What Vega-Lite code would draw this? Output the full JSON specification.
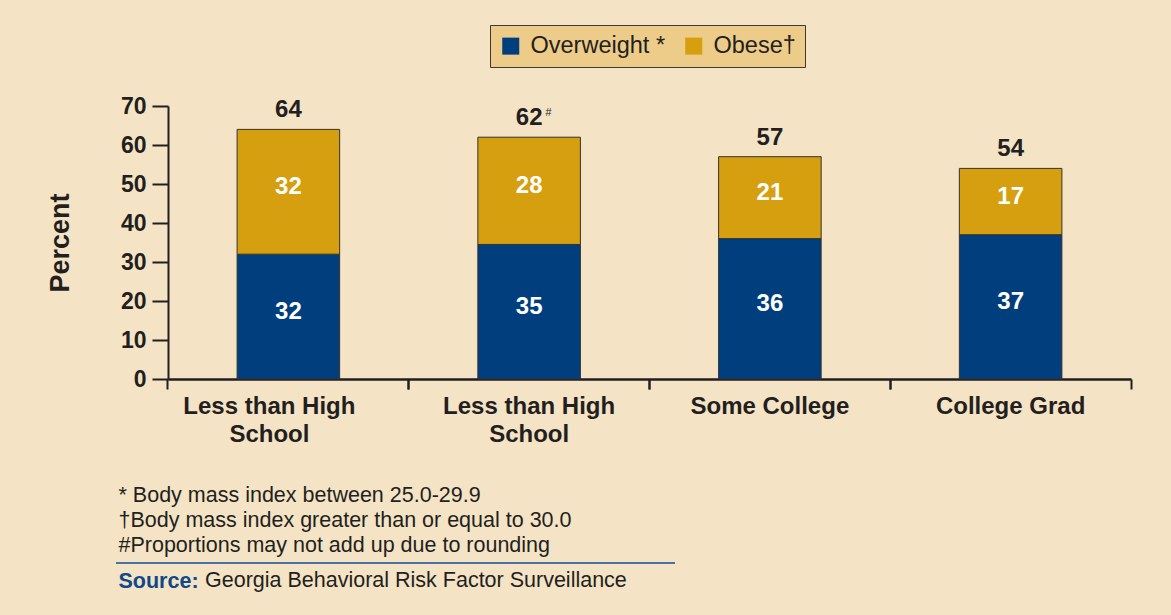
{
  "$schema": "https://vega.github.io/schema/vega-lite/v6.json",
  "width": 963,
  "height": 273,
  "autosize": {"type": "none"},
  "padding": {"left": 168, "top": 106, "right": 40, "bottom": 236},
  "background": "#F4E4C5",
  "data": {
    "values": [
      {"education": "Less than High School", "series": "Overweight *", "value": 32},
      {"education": "Less than High School", "series": "Obese†", "value": 32},
      {"education": "Less than High School ", "series": "Overweight *", "value": 34.5},
      {"education": "Less than High School ", "series": "Obese†", "value": 27.5, "note": "#"},
      {"education": "Some College", "series": "Overweight *", "value": 36},
      {"education": "Some College", "series": "Obese†", "value": 21},
      {"education": "College Grad", "series": "Overweight *", "value": 37},
      {"education": "College Grad", "series": "Obese†", "value": 17}
    ]
  },
  "resolve": {"axis": {"x": "independent"}},
  "layer": [
    {
      "mark": {"type": "bar", "stroke": "#333333", "strokeWidth": 1},
      "encoding": {
        "x": {
          "field": "education", "type": "nominal", "sort": null,
          "scale": {"domain": ["Less than High School", "Less than High School ", "Some College", "College Grad"], "paddingInner": 0.574, "paddingOuter": 0.287},
          "axis": {
            "orient": "bottom",
            "title": ["* Body mass index between 25.0-29.9", "†Body mass index greater than or equal to 30.0", "#Proportions may not add up due to rounding"],
            "titleX": -50, "titleY": 122, "titleAlign": "left", "titleBaseline": "alphabetic",
            "titleFontSize": 21.5, "titleFontWeight": "normal", "titleColor": "#231F20", "titleLineHeight": 25, "titleFont": "Liberation Sans",
            "labelExpr": "split(replace(datum.label, ' School', '|School'), '|')",
            "labelFontSize": 24, "labelFontWeight": "bold", "labelColor": "#231F20", "labelLineHeight": 28, "labelPadding": 5, "labelAngle": 0, "labelLimit": 0, "labelOverlap": false, "labelFont": "Liberation Sans",
            "labelOffset": {"condition": {"test": "datum.value === 'Less than High School'", "value": -19}, "value": 0},
            "tickSize": 10, "tickWidth": 2, "tickColor": "#231F20", "bandPosition": -0.674,
            "domainColor": "#231F20", "domainWidth": 2.5, "grid": false
          }
        },
        "y": {
          "field": "value", "type": "quantitative", "stack": "zero",
          "scale": {"domain": [0, 70], "nice": false},
          "title": "Percent",
          "axis": {
            "values": [0, 10, 20, 30, 40, 50, 60, 70], "tickCount": 10,
            "titleFontSize": 27, "titleFontWeight": "bold", "titleColor": "#231F20", "titleFont": "Liberation Sans",
            "titleX": -100, "titleY": 136.5, "titleAngle": 270, "titleAlign": "center", "titleBaseline": "alphabetic",
            "labelFontSize": 23, "labelFontWeight": "bold", "labelColor": "#231F20", "labelPadding": 6, "labelFont": "Liberation Sans", "labelOverlap": false, "labelBaseline": "middle",
            "tickSize": 16, "tickWidth": 2, "tickColor": "#231F20",
            "domainColor": "#231F20", "domainWidth": 2, "grid": false
          }
        },
        "color": {
          "field": "series", "type": "nominal",
          "scale": {"domain": ["Overweight *", "Obese†"], "range": ["#003E7E", "#D59F0F"]},
          "legend": {
            "orient": "none", "legendX": 322, "legendY": -81, "direction": "horizontal", "title": null,
            "fillColor": "#EDCB89", "strokeColor": "#3A3A3A", "padding": 9,
            "symbolType": "square", "symbolSize": 289, "symbolStrokeWidth": 0, "symbolOpacity": 1,
            "labelFontSize": 23.5, "labelColor": "#231F20", "labelFont": "Liberation Sans", "labelOffset": 8, "columnPadding": 16
          }
        },
        "order": {"field": "series", "sort": "descending"}
      }
    },
    {
      "transform": [
        {"stack": "value", "groupby": ["education"], "sort": [{"field": "series", "order": "descending"}], "as": ["v0", "v1"]},
        {"fold": ["v0", "v1"], "as": ["edge", "pos"]},
        {"aggregate": [{"op": "mean", "field": "pos", "as": "mid"}], "groupby": ["education", "series", "value"]}
      ],
      "mark": {"type": "text", "color": "#FFFFFF", "fontSize": 24, "fontWeight": "bold", "baseline": "middle", "dy": -5, "font": "Liberation Sans"},
      "encoding": {
        "x": {
          "field": "education", "type": "nominal", "sort": null,
          "scale": {"domain": ["Less than High School", "Less than High School ", "Some College", "College Grad"]},
          "axis": {
            "orient": "bottom", "domain": false, "labels": false, "ticks": true, "tickSize": 10, "tickWidth": 2, "tickColor": "#231F20", "bandPosition": 1.674, "grid": false,
            "title": "Source:", "titleX": -50, "titleY": 208, "titleAlign": "left", "titleBaseline": "alphabetic",
            "titleFontSize": 21.5, "titleFontWeight": "bold", "titleColor": "#10488A", "titleFont": "Liberation Sans"
          }
        },
        "y": {"field": "mid", "type": "quantitative", "title": "Percent"},
        "text": {"field": "value", "type": "quantitative", "format": ".0f"}
      }
    },
    {
      "transform": [
        {"aggregate": [{"op": "sum", "field": "value", "as": "total"}], "groupby": ["education"]}
      ],
      "mark": {"type": "text", "color": "#231F20", "fontSize": 24, "fontWeight": "bold", "baseline": "alphabetic", "dy": -12, "font": "Liberation Sans"},
      "encoding": {
        "x": {
          "field": "education", "type": "nominal", "sort": null,
          "scale": {"domain": ["Less than High School", "Less than High School ", "Some College", "College Grad"]},
          "axis": {
            "orient": "bottom", "offset": 236, "translate": -52,
            "domain": true, "domainColor": "#4A73A0", "domainWidth": 2, "domainDash": [559, 2000],
            "labels": false, "ticks": false, "grid": false,
            "title": "Georgia Behavioral Risk Factor Surveillance", "titleX": 89, "titleY": 24, "titleAlign": "left", "titleBaseline": "alphabetic",
            "titleFontSize": 21.5, "titleFontWeight": "normal", "titleColor": "#231F20", "titleFont": "Liberation Sans"
          }
        },
        "y": {"field": "total", "type": "quantitative", "title": "Percent"},
        "text": {"field": "total", "type": "quantitative", "format": ".0f"}
      }
    },
    {
      "transform": [
        {"joinaggregate": [{"op": "sum", "field": "value", "as": "total"}], "groupby": ["education"]},
        {"filter": "isValid(datum.note)"}
      ],
      "mark": {"type": "text", "color": "#231F20", "fontSize": 11, "fontStyle": "italic", "align": "left", "baseline": "alphabetic", "dx": 16, "dy": -21, "font": "Liberation Sans"},
      "encoding": {
        "x": {
          "field": "education", "type": "nominal", "sort": null,
          "scale": {"domain": ["Less than High School", "Less than High School ", "Some College", "College Grad"]},
          "axis": null
        },
        "y": {"field": "total", "type": "quantitative", "title": "Percent"},
        "text": {"field": "note", "type": "nominal"}
      }
    }
  ],
  "config": {
    "view": {"stroke": null},
    "font": "Liberation Sans"
  }
}
